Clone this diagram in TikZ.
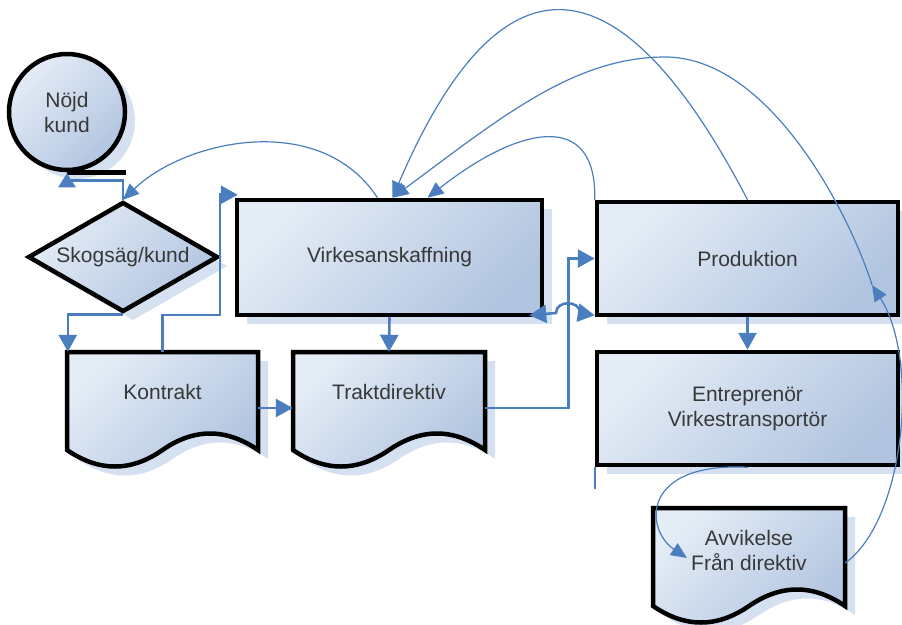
\documentclass[tikz,border=0pt]{standalone}
\usepackage{fontspec}
\setmainfont{Liberation Sans}
\usetikzlibrary{shapes.geometric,arrows.meta,calc,shadows}
\definecolor{conn}{HTML}{4A7EBF}
\definecolor{fillA}{HTML}{E4ECF6}
\definecolor{fillB}{HTML}{B2C5E0}
\definecolor{shadowc}{HTML}{D5E1F0}
\definecolor{txt}{HTML}{383838}
\begin{document}
\begin{tikzpicture}[x=1pt,y=-1pt,
  lbl/.style={font=\fontsize{21}{25}\selectfont, text=txt, align=center},
  sh/.style={drop shadow={shadow xshift=10pt,shadow yshift=-9pt,fill=shadowc,opacity=1}},
  boxstyle/.style={lbl, sh, draw=black, line width=4.5pt, top color=fillA, bottom color=fillB, shading angle=45, inner sep=0pt},
  docstyle/.style={sh, draw=black, line width=4.5pt, top color=fillA, bottom color=fillB, shading angle=45},
  doclbl/.style={lbl, inner sep=0pt},
  conthick/.style={draw=conn, line width=2.6pt, -{Triangle[length=17pt,width=18pt]}},
  conthin/.style={draw=conn, line width=1.2pt, -{Triangle[length=16pt,width=14pt]}}
]
\useasboundingbox (0,0) rectangle (902,624);

% shapes
\node[boxstyle, circle, minimum size=116pt] (nojd) at (67,112) {Nöjd\\kund};
\draw[line width=4.5pt] (nojd.south) -- ++(59,0);
\node[boxstyle, diamond, aspect=1.727, minimum width=190pt, minimum height=110pt] (dia) at (123,257) {Skogsäg/kund};
\node[boxstyle, rectangle, minimum width=305pt, minimum height=115pt] (virk) at (389.5,257.5) {Virkesanskaffning};
\node[boxstyle, rectangle, minimum width=301pt, minimum height=113pt] (prod) at (747.5,258.5) {Produktion};
\node[boxstyle, rectangle, minimum width=301pt, minimum height=113pt] (entr) at (747.5,408.5) {Entreprenör\\Virkestransportör};

\draw[docstyle] (67,352) -- (258,352) -- (258,450) .. controls (226,428) and (194,428) .. (162.5,450) .. controls (131,472) and (99,472) .. (67,450) -- cycle;
\node[doclbl, minimum width=191pt, minimum height=80pt] (kon) at (162.5,392) {Kontrakt};
\draw[docstyle] (293,352) -- (485,352) -- (485,450) .. controls (453,428) and (421,428) .. (389,450) .. controls (357,472) and (325,472) .. (293,450) -- cycle;
\node[doclbl, minimum width=192pt, minimum height=80pt] (trak) at (389,392) {Traktdirektiv};
\draw[docstyle] (653,508) -- (845,508) -- (845,606) .. controls (813,584) and (781,584) .. (749,606) .. controls (717,628) and (685,628) .. (653,606) -- cycle;
\node[doclbl, minimum width=192pt, minimum height=84pt] (avv) at (749,550) {Avvikelse\\Från direktiv};

\coordinate (pp) at (872,285);

% thick connectors
\draw[conthick, -{Triangle[length=14pt,width=17pt]}] (dia.north) -- ++(0,-19) -| ([yshift=-1pt]nojd.south);
\draw[conthick] (dia.south) -| ([xshift=1pt]kon.north west);
\draw[conthick] (kon.north) |- (220,315) |- ([xshift=3pt,yshift=3pt]virk.north west);
\draw[conthick] (virk.south) -- (trak.north);
\draw[conthick] ([yshift=-16pt]kon.east) -- ([yshift=-16pt]trak.west);
\draw[conthick] ([yshift=-16pt]trak.east) -- ++(83,0) |- (prod.west);
\draw[conthick, {Triangle[length=17pt,width=18pt]}-{Triangle[length=17pt,width=18pt]}] ([xshift=-15pt,yshift=2pt]virk.south east) -- (556,313) .. controls (556,300) and (580,300) .. (580,313) -- ([yshift=2pt]prod.south west);
\draw[conthick] (prod.south) -- (entr.north);
\draw[draw=conn, line width=2pt] (entr.south west) -- ++(0,22);

% thin curves
\draw[conthin] ([xshift=-12pt]virk.north) .. controls (320,110) and (185,140) .. (dia.north);
\draw[conthin] (prod.north west) .. controls (597,110) and (520,125) .. ([xshift=38pt]virk.north);
\draw[conthin] (prod.north) .. controls (617,-51) and (499,-51) .. ([xshift=3pt]virk.north);
\draw[conthin] (pp) .. controls (850,215) and (770,57) .. (665,57) .. controls (574,57) and (500,118) .. ([xshift=3pt]virk.north);
\draw[conthin] ([yshift=-13pt]avv.east) .. controls (905,520) and (920,360) .. (pp);
\draw[conthin] (entr.south) .. controls (640,462) and (645,530) .. ([xshift=-62pt,yshift=-8pt]avv.center);
\end{tikzpicture}
\end{document}
